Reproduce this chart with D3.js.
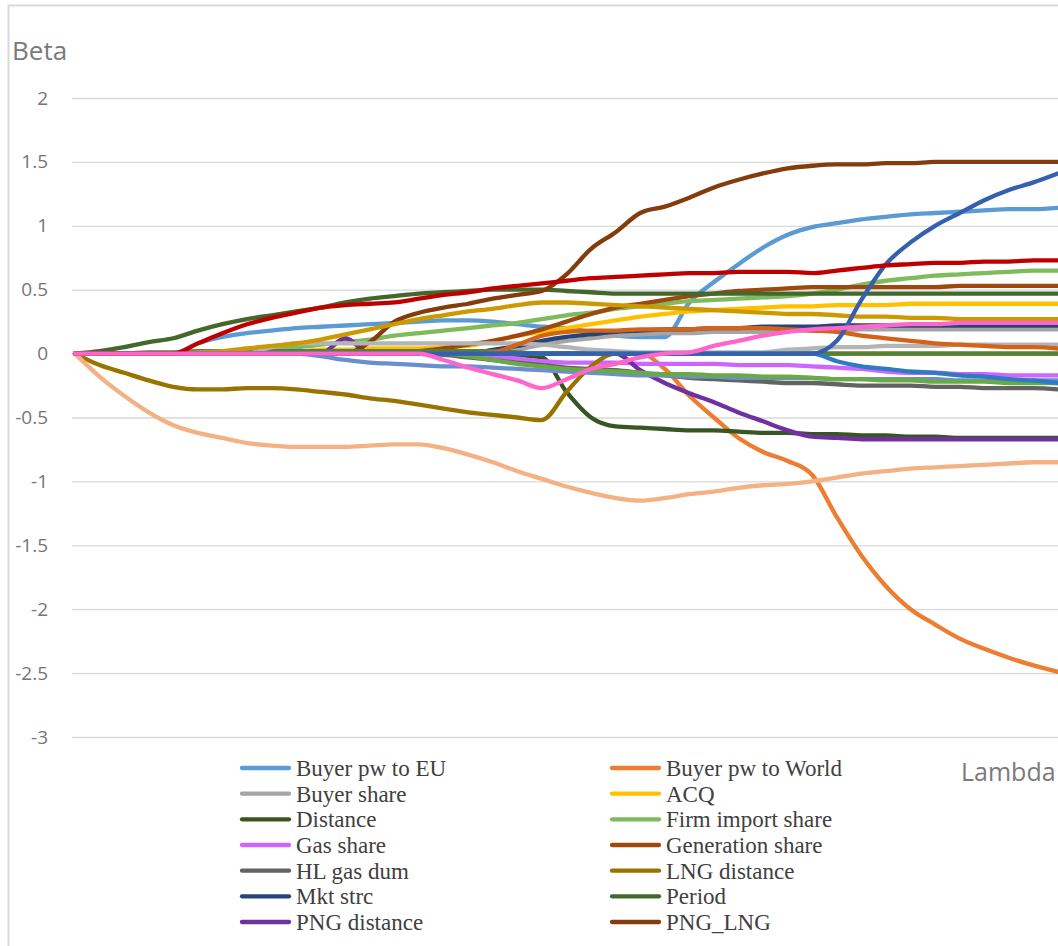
<!DOCTYPE html>
<html>
<head>
<meta charset="utf-8">
<script src="https://cdn.jsdelivr.net/npm/d3@7"></script>
<style>
  html, body { margin: 0; padding: 0; background: #fff; overflow: hidden; }
  svg { display: block; }
</style>
</head>
<body>
<svg id="chart" width="1058" height="946"></svg>
<script>
// ---------------- DATA ----------------
const lambdaSteps = d3.range(0, 41); // lambda path steps (visible part)
const yTicks = [2, 1.5, 1, 0.5, 0, -0.5, -1, -1.5, -2, -2.5, -3];
const yTickLabels = ["2", "1.5", "1", "0.5", "0", "-0.5", "-1", "-1.5", "-2", "-2.5", "-3"];

const buyerPwEU = [0,0,0,0,0,0.08,0.13,0.16,0.18,0.2,0.21,0.22,0.23,0.24,0.25,0.26,0.26,0.25,0.23,0.21,0.2,0.17,0.14,0.13,0.13,0.4,0.56,0.7,0.83,0.93,0.99,1.02,1.05,1.07,1.09,1.1,1.11,1.12,1.13,1.13,1.14];
const buyerPwWorld = [0,0,0,0,0,0,0,0,0,0,0,0,0,0,0,0,0,0,0,0,0,0,0,0,-0.12,-0.33,-0.5,-0.66,-0.77,-0.84,-0.95,-1.28,-1.58,-1.82,-2.0,-2.12,-2.23,-2.31,-2.38,-2.44,-2.49];
const buyerShare = [0,0,0,0,0,0,0,0,0,0,0,0,0,0,0,0,0,0,0.03,0.07,0.1,0.12,0.14,0.15,0.16,0.16,0.17,0.17,0.17,0.18,0.18,0.18,0.19,0.19,0.19,0.19,0.19,0.19,0.19,0.19,0.19];
const acq = [0,0,0,0,0,0,0,0,0,0.01,0.03,0.03,0.04,0.04,0.04,0.05,0.06,0.1,0.14,0.17,0.2,0.23,0.26,0.29,0.31,0.33,0.34,0.35,0.36,0.37,0.37,0.38,0.38,0.38,0.39,0.39,0.39,0.39,0.39,0.39,0.39];
const distance = [0,0,0,0,0,0,0,0,0,0,0,0,0,0,0,0,0,0,-0.01,-0.03,-0.3,-0.5,-0.57,-0.58,-0.59,-0.6,-0.6,-0.61,-0.62,-0.62,-0.63,-0.63,-0.64,-0.64,-0.65,-0.65,-0.66,-0.66,-0.66,-0.66,-0.66];
const firmImportShare = [0,0,0,0,0,0,0.01,0.02,0.04,0.05,0.07,0.09,0.11,0.14,0.16,0.18,0.2,0.22,0.24,0.27,0.3,0.32,0.35,0.37,0.39,0.41,0.42,0.43,0.44,0.45,0.47,0.5,0.54,0.57,0.59,0.61,0.62,0.63,0.64,0.65,0.65];
const gasShare = [0,0,0,0,0,0,0,0,0,0,0,0,0,0,0,0,0,-0.02,-0.04,-0.06,-0.07,-0.07,-0.07,-0.08,-0.08,-0.08,-0.08,-0.09,-0.09,-0.09,-0.1,-0.11,-0.12,-0.14,-0.15,-0.15,-0.16,-0.16,-0.17,-0.17,-0.17];
const generationShare = [0,0,0,0,0,0,0,0,0,0,0,0,0,0.01,0.02,0.04,0.07,0.1,0.14,0.19,0.25,0.31,0.36,0.39,0.42,0.45,0.47,0.49,0.5,0.51,0.52,0.52,0.52,0.52,0.52,0.52,0.53,0.53,0.53,0.53,0.53];
const hlGasDum = [0,0,0,0,0,0,0,0,0,0,0,0,0,0,0,-0.01,-0.03,-0.05,-0.07,-0.09,-0.11,-0.12,-0.13,-0.15,-0.17,-0.19,-0.2,-0.21,-0.22,-0.23,-0.23,-0.24,-0.25,-0.25,-0.25,-0.26,-0.26,-0.27,-0.27,-0.27,-0.28];
const lngDistance = [0,-0.09,-0.15,-0.21,-0.26,-0.28,-0.28,-0.27,-0.27,-0.28,-0.3,-0.32,-0.35,-0.37,-0.4,-0.43,-0.46,-0.48,-0.5,-0.52,-0.3,-0.1,0,0,0,0,0,0,0,0,0,0,0,0,0,0,0,0,0,0,0];
const mktStrc = [0,0,0,0,0,0,0,0,0,0,0,0,0,0,0,0,0,0.03,0.06,0.1,0.13,0.15,0.17,0.18,0.19,0.19,0.2,0.2,0.21,0.21,0.21,0.22,0.22,0.22,0.22,0.22,0.22,0.22,0.22,0.22,0.22];
const period = [0,0.02,0.05,0.09,0.12,0.18,0.23,0.27,0.3,0.33,0.36,0.4,0.43,0.45,0.47,0.48,0.49,0.5,0.5,0.5,0.49,0.48,0.47,0.47,0.47,0.47,0.47,0.47,0.47,0.47,0.47,0.47,0.47,0.47,0.47,0.47,0.47,0.47,0.47,0.47,0.47];
const pngDistance = [0,0,0,0,0,0,0,0,0,0,0,0.12,0,0,0,0,0,0,0,0,0,0,0,-0.13,-0.23,-0.31,-0.38,-0.46,-0.53,-0.6,-0.65,-0.66,-0.67,-0.67,-0.67,-0.67,-0.67,-0.67,-0.67,-0.67,-0.67];
const pngLng = [0,0,0,0,0,0,0,0,0,0,0,0,0.09,0.25,0.32,0.36,0.39,0.43,0.46,0.49,0.62,0.82,0.95,1.1,1.15,1.22,1.3,1.36,1.41,1.45,1.47,1.48,1.48,1.49,1.49,1.5,1.5,1.5,1.5,1.5,1.5];
// further series of the path whose legend entries fall outside the picture
const extraRed = [0,0,0,0,0,0.08,0.16,0.23,0.28,0.32,0.36,0.38,0.39,0.4,0.43,0.46,0.48,0.51,0.53,0.55,0.57,0.59,0.6,0.61,0.62,0.63,0.63,0.64,0.64,0.64,0.63,0.65,0.67,0.69,0.7,0.71,0.71,0.72,0.72,0.73,0.73];
const extraPeach = [0,-0.18,-0.33,-0.46,-0.56,-0.62,-0.66,-0.7,-0.72,-0.73,-0.73,-0.73,-0.72,-0.71,-0.71,-0.74,-0.79,-0.85,-0.92,-0.98,-1.04,-1.09,-1.13,-1.15,-1.13,-1.1,-1.08,-1.05,-1.03,-1.02,-1.0,-0.97,-0.94,-0.92,-0.9,-0.89,-0.88,-0.87,-0.86,-0.85,-0.85];
const extraPink = [0,0,0,0,0,0,0,0,0,0,0,0,0,0,0,-0.05,-0.11,-0.16,-0.21,-0.27,-0.2,-0.12,-0.08,-0.03,0,0.01,0.06,0.1,0.14,0.17,0.19,0.2,0.21,0.22,0.23,0.23,0.24,0.24,0.24,0.24,0.24];
const extraBlueUp = [0,0,0,0,0,0,0,0,0,0,0,0,0,0,0,0,0,0,0,0,0,0,0,0,0,0,0,0,0,0,0,0.1,0.42,0.7,0.87,1.0,1.1,1.2,1.28,1.34,1.41];
const extraBlueDown = [0,0,0,0,0,0,0,0,0,0,0,0,0,0,0,0,0,0,0,0,0,0,0,0,0,0,0,0,0,0,0,-0.06,-0.1,-0.12,-0.14,-0.15,-0.17,-0.18,-0.2,-0.21,-0.23];
const extraCornflower = [0,0,0,0,0,0,0,0,0,0,-0.02,-0.05,-0.07,-0.08,-0.09,-0.1,-0.1,-0.11,-0.12,-0.13,-0.14,-0.15,-0.16,-0.17,-0.17,-0.18,-0.18,-0.19,-0.19,-0.19,-0.19,-0.2,-0.2,-0.2,-0.2,-0.2,-0.21,-0.21,-0.21,-0.21,-0.21];
const extraGreenNeg = [0,0,0,0,0,0,0,0,0,0,0,0,0,0,0,0,-0.02,-0.05,-0.08,-0.1,-0.12,-0.13,-0.14,-0.15,-0.16,-0.16,-0.17,-0.17,-0.18,-0.18,-0.19,-0.2,-0.2,-0.21,-0.21,-0.22,-0.22,-0.22,-0.23,-0.23,-0.23];
const extraGreenZero = [0,0,0,0.01,0.01,0.02,0.02,0.02,0.02,0.02,0.02,0.02,0.02,0.02,0.02,0.02,0.02,0.02,0.01,0,0,0,0,0,0,0,0,0,0,0,0,0,0,0,0,0,0,0,0,0,0];
const extraOrange = [0,0,0,0,0,0,0,0,0,0,0,0,0,0,0,0,0,0.01,0.07,0.14,0.17,0.18,0.18,0.19,0.19,0.19,0.2,0.2,0.2,0.19,0.18,0.17,0.14,0.12,0.1,0.08,0.07,0.06,0.05,0.05,0.04];
const extraGold = [0,0,0,0,0,0.01,0.02,0.04,0.06,0.08,0.11,0.15,0.19,0.23,0.27,0.3,0.33,0.35,0.38,0.4,0.4,0.39,0.38,0.37,0.36,0.35,0.34,0.33,0.32,0.31,0.31,0.3,0.29,0.29,0.28,0.28,0.27,0.27,0.27,0.27,0.27];
const extraGray = [0,0,0,0,0,0,0,0,0.05,0.08,0.08,0.08,0.08,0.08,0.08,0.08,0.08,0.08,0.08,0.07,0.05,0.03,0.02,0.01,0.01,0.01,0.01,0.01,0.01,0.03,0.04,0.05,0.05,0.06,0.06,0.06,0.07,0.07,0.07,0.07,0.07];

const legendNames = ["Buyer pw to EU","Buyer pw to World","Buyer share","ACQ","Distance","Firm import share","Gas share","Generation share","HL gas dum","LNG distance","Mkt strc","Period","PNG distance","PNG_LNG"];
const legendValues = [buyerPwEU,buyerPwWorld,buyerShare,acq,distance,firmImportShare,gasShare,generationShare,hlGasDum,lngDistance,mktStrc,period,pngDistance,pngLng];
const extraValues = [extraCornflower,extraGreenNeg,extraGreenZero,extraGray,extraOrange,extraGold,extraBlueDown,extraBlueUp,extraPeach,extraRed,extraPink];

// ---------------- STYLE ----------------
const legendColors = ["#5B9BD5","#ED7D31","#A5A5A5","#FFC000","#375623","#7FBA5C","#CC66FF","#9E480E","#636363","#997300","#264478","#43682B","#7030A0","#843C0C"];
const extraColors = ["#6A8ED2","#6AAA45","#548235","#B4B4B4","#D4631A","#CC9A00","#2E7BC4","#3560AE","#F4B183","#C00000","#FF66CC"];

const svg = d3.select("#chart");
const W = 1058, H = 946;

// chart frame
svg.append("rect").attr("x", 8.5).attr("y", 5.5).attr("width", 1200).attr("height", 1100)
  .attr("fill", "#fff").attr("stroke", "#D9D9D9").attr("stroke-width", 2);

const x = d3.scaleLinear().domain([0, 40]).range([75, 1058]);
const y = d3.scaleLinear().domain([-3, 2]).range([737, 98]);

// gridlines + y labels
const yAxis = d3.axisLeft(y).tickValues(yTicks).tickSize(-(W - 72)).tickPadding(24)
  .tickFormat((d, i) => yTickLabels[i]);
const gy = svg.append("g").attr("transform", "translate(72,0)").call(yAxis);
gy.select(".domain").remove();
gy.selectAll(".tick line").attr("stroke", "#D9D9D9").attr("stroke-width", 1.3);
gy.selectAll(".tick text").attr("fill", "#767676")
  .style("font-family", "'Open Sans', 'Liberation Sans', Arial, sans-serif").style("font-size", "19px");

// axis titles
svg.append("text").attr("x", 12).attr("y", 60).text("Beta")
  .attr("fill", "#7A7A7A").style("font-family", "'Open Sans', 'Liberation Sans', Arial, sans-serif").style("font-size", "26px");
svg.append("text").attr("x", 961).attr("y", 781).text("Lambda")
  .attr("fill", "#7A7A7A").style("font-family", "'Open Sans', 'Liberation Sans', Arial, sans-serif").style("font-size", "25px");

// lines
const line = d3.line().x((d, i) => x(lambdaSteps[i])).y(d => y(d)).curve(d3.curveMonotoneX);
const gLines = svg.append("g");
const all = legendValues.map((v, i) => ({ v, c: legendColors[i] }))
  .concat(extraValues.map((v, i) => ({ v, c: extraColors[i] })));
gLines.selectAll("path").data(all).join("path")
  .attr("d", d => line(d.v))
  .attr("fill", "none").attr("stroke", d => d.c).attr("stroke-width", 4.3)
  .attr("stroke-linejoin", "round").attr("stroke-linecap", "round");

// legend
const leg = svg.append("g");
legendNames.forEach((name, i) => {
  const col = i % 2, row = Math.floor(i / 2);
  const sx = col === 0 ? 242 : 612;
  const cy = 768 + row * 25.67;
  leg.append("line").attr("x1", sx).attr("x2", sx + 47).attr("y1", cy).attr("y2", cy)
    .attr("stroke", legendColors[i]).attr("stroke-width", 4.3).attr("stroke-linecap", "round");
  leg.append("text").attr("x", sx + 54).attr("y", cy).attr("dy", "0.35em").text(name)
    .attr("fill", "#404040").style("font-family", "'Liberation Serif', 'Times New Roman', serif").style("font-size", "23px");
});
</script>
</body>
</html>
